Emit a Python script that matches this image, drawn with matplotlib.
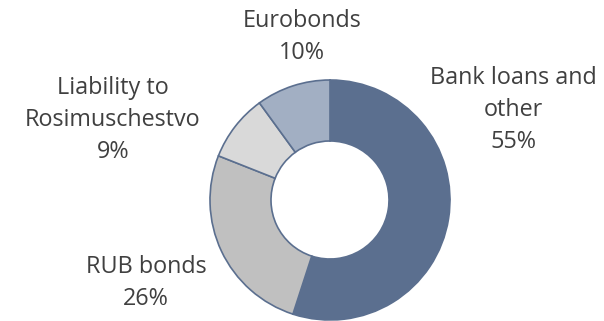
import matplotlib.pyplot as plt
from matplotlib import rcParams

rcParams['font.family'] = ['Open Sans', 'DejaVu Sans']

# data
labels = ['Bank loans and\nother', 'RUB bonds', 'Liability to\nRosimuschestvo', 'Eurobonds']
shares = [55, 26, 9, 10]
colors = ['#5b6f8f', '#c0c0c0', '#d9d9d9', '#a2afc3']

# label anchors in pixel coords (x, y from top)
label_pos = [(513, 110), (146, 283), (113, 120), (302, 37)]

fig = plt.figure(figsize=(6.04, 3.21), dpi=100)
ax = fig.add_axes([0, 0, 1, 1])

ax.pie(shares, colors=colors, startangle=90, counterclock=False,
       center=(330, 121), radius=120, frame=True,
       wedgeprops=dict(width=61, edgecolor='#5b6f8f', linewidth=1.2))
ax.set_xlim(0, 604)
ax.set_ylim(0, 321)
ax.set_aspect('equal')
ax.axis('off')

for lab, val, (x, y) in zip(labels, shares, label_pos):
    ax.text(x, 321 - y, f'{lab}\n{val}%', ha='center', va='center',
            fontsize=16.8, color='#404040', linespacing=1.45)

fig.savefig('out.png', dpi=100)
